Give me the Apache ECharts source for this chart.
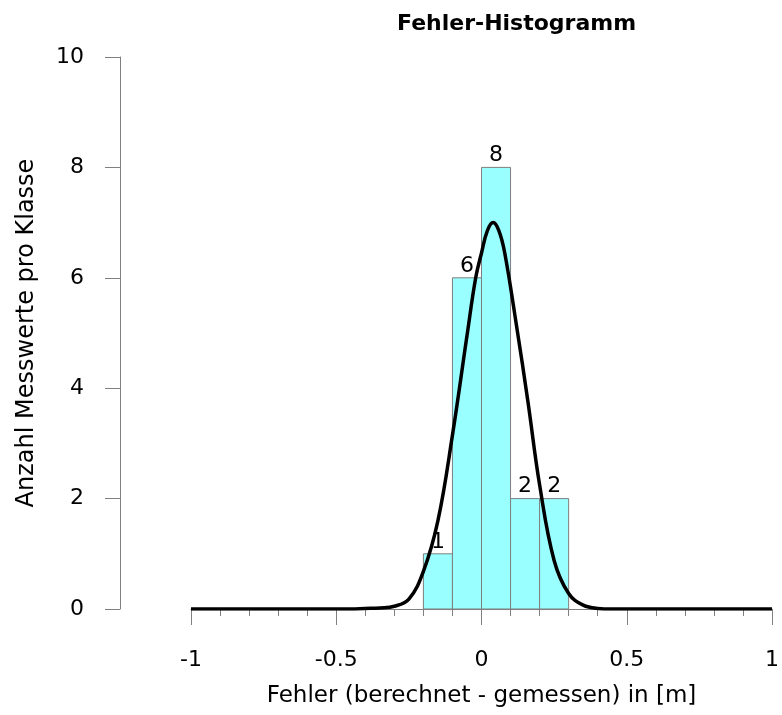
<!DOCTYPE html>
<html>
<head>
<meta charset="utf-8">
<script src="https://cdn.jsdelivr.net/npm/echarts@6/dist/echarts.min.js"></script>
<style>html,body{margin:0;padding:0;background:#fff}#c{width:782px;height:715px}</style>
</head>
<body>
<div id="c"></div>
<script>
// Histogram classes (bin start, bin end) and counts
const binStart = [-0.2, -0.1, 0.0, 0.1, 0.2];
const binEnd   = [-0.1, 0.0, 0.1, 0.2, 0.3];
const counts   = [1, 6, 8, 2, 2];
// Fitted normal curve
const curveX = [-1, -0.5, -0.45, -0.4, -0.35, -0.3, -0.25, -0.2, -0.15, -0.1, -0.05, -0.02, 0, 0.02, 0.04, 0.06, 0.08, 0.12, 0.16, 0.2, 0.25, 0.3, 0.35, 0.4, 0.45, 0.5, 1];
const curveY = [0, 0, 0, 0.01, 0.02, 0.05, 0.18, 0.68, 1.6, 3.15, 4.95, 6.0, 6.45, 6.85, 7.0, 6.85, 6.45, 5.15, 3.75, 2.25, 0.88, 0.28, 0.07, 0.01, 0, 0, 0];
const xTicks = [-1, -0.5, 0, 0.5, 1];
const yTicks = [0, 2, 4, 6, 8, 10];

const FONT = '"DejaVu Sans", sans-serif';
const chart = echarts.init(document.getElementById('c'));
const barData = binStart.map((s, i) => [s, binEnd[i], counts[i]]);
const curveData = curveX.map((x, i) => [x, curveY[i]]);

chart.setOption({
  animation: false,
  title: {
    text: 'Fehler-Histogramm',
    left: 392, top: 8,
    textStyle: { fontFamily: FONT, fontSize: 22, fontWeight: 'bold', color: '#000' }
  },
  grid: { left: 191, right: 7, top: 57, bottom: 106 },
  xAxis: {
    type: 'value', min: -1, max: 1, interval: 0.5,
    name: 'Fehler (berechnet - gemessen) in [m]',
    nameLocation: 'middle', nameGap: 76,
    nameTextStyle: { fontFamily: FONT, fontSize: 23, color: '#000' },
    axisLine: { show: true, onZero: false, lineStyle: { color: '#808080', width: 1 } },
    axisTick: { show: true, length: 16, lineStyle: { color: '#808080' } },
    minorTick: { show: true, splitNumber: 5, length: 7, lineStyle: { color: '#808080' } },
    splitLine: { show: false },
    axisLabel: { margin: 40, fontFamily: FONT, fontSize: 22, color: '#000',
      formatter: v => xTicks.includes(v) ? String(v) : '' }
  },
  yAxis: {
    type: 'value', min: 0, max: 10, interval: 2, offset: 71,
    name: 'Anzahl Messwerte pro Klasse',
    nameLocation: 'middle', nameGap: 81,
    nameTextStyle: { fontFamily: FONT, fontSize: 24, color: '#000' },
    axisLine: { show: true, onZero: false, lineStyle: { color: '#808080', width: 1 } },
    axisTick: { show: true, length: 15, lineStyle: { color: '#808080' } },
    splitLine: { show: false },
    axisLabel: { margin: 36, fontFamily: FONT, fontSize: 22, color: '#000',
      formatter: v => yTicks.includes(v) ? String(v) : '' }
  },
  series: [
    {
      type: 'custom',
      data: barData,
      z: 2,
      renderItem: function (params, api) {
        const p0 = api.coord([api.value(0), api.value(2)]);
        const p1 = api.coord([api.value(1), 0]);
        const cx = (p0[0] + p1[0]) / 2;
        return {
          type: 'group',
          children: [
            { type: 'rect',
              shape: { x: p0[0], y: p0[1], width: p1[0] - p0[0], height: p1[1] - p0[1] },
              style: { fill: '#99ffff', stroke: '#7f7f7f', lineWidth: 1 } },
            { type: 'text',
              style: { text: String(api.value(2)), x: cx, y: p0[1] - 1,
                align: 'center', verticalAlign: 'bottom',
                font: '22px ' + FONT, fill: '#000' } }
          ]
        };
      }
    },
    {
      type: 'line',
      data: curveData,
      z: 5,
      smooth: 0.4,
      showSymbol: false,
      lineStyle: { color: '#000', width: 3.5 }
    }
  ]
});
</script>
</body>
</html>
